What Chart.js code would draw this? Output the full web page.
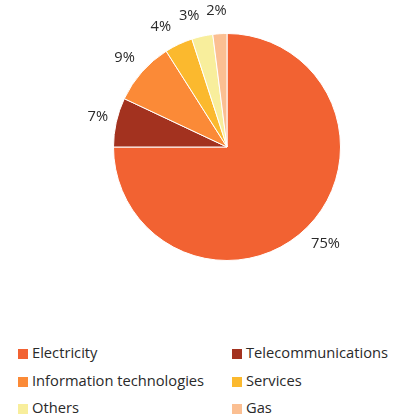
<!DOCTYPE html>
<html>
<head>
<meta charset="utf-8">
<script src="https://cdn.jsdelivr.net/npm/chart.js@4/dist/chart.umd.min.js"></script>
<style>
  html, body { margin: 0; padding: 0; background: #fff; }
  #wrap { position: relative; width: 394px; height: 419px; }
  #pie-box { position: absolute; left: 0; top: 0; width: 394px; height: 300px; }
  #legend { position: absolute; left: 0; top: 340px; width: 394px; font-family: "Open Sans", sans-serif; font-size: 14.7px; color: #2a2a2a; }
  .item { position: absolute; height: 20px; line-height: 20px; white-space: nowrap; }
  .swatch { display: inline-block; width: 10px; height: 10px; margin-right: 4px; vertical-align: -1px; }
</style>
</head>
<body>
<div id="wrap">
  <div id="pie-box"><canvas id="pie"></canvas></div>
  <div id="legend"></div>
</div>
<script>
// sectors, clockwise from 12 o'clock
const categories = ["Electricity", "Telecommunications", "Information technologies", "Services", "Others", "Gas"];
const shares = [75, 7, 9, 4, 3, 2];
const colors = ["#f26232", "#a3321f", "#fb8a37", "#fbb92e", "#f8ee9c", "#fbbf92"];

// percentage text outside each slice; the thin top slices get spread apart a little
const outsideLabels = {
  id: "outsideLabels",
  nudge: [[2, 0], [4, 0], [0, 1], [-8, 3], [-8, 2], [-2, 0]],
  afterDatasetsDraw(chart) {
    const ctx = chart.ctx;
    const meta = chart.getDatasetMeta(0);
    ctx.save();
    ctx.font = "14.7px 'Open Sans', sans-serif";
    ctx.fillStyle = "#2a2a2a";
    ctx.textAlign = "center";
    ctx.textBaseline = "middle";
    meta.data.forEach((arc, i) => {
      const mid = (arc.startAngle + arc.endAngle) / 2;
      const r = arc.outerRadius + 23;
      const [dx, dy] = this.nudge[i];
      ctx.fillText(shares[i] + "%", arc.x + Math.cos(mid) * r + dx, arc.y + Math.sin(mid) * r + dy);
    });
    ctx.restore();
  }
};

new Chart(document.getElementById("pie"), {
  type: "pie",
  data: {
    labels: categories,
    datasets: [{
      data: shares,
      backgroundColor: colors,
      borderColor: "#fff",
      borderWidth: 1
    }]
  },
  options: {
    responsive: true,
    maintainAspectRatio: false,
    animation: false,
    layout: { padding: { left: 113, right: 53, top: 33, bottom: 39 } },
    plugins: {
      legend: { display: false },
      tooltip: { enabled: false }
    }
  },
  plugins: [outsideLabels]
});

// two-column legend below the pie
const legend = document.getElementById("legend");
categories.forEach((name, i) => {
  const item = document.createElement("div");
  item.className = "item";
  item.style.left = (i % 2 === 0 ? 18 : 232) + "px";
  item.style.top = (Math.floor(i / 2) * 27.5 + 2) + "px";
  item.innerHTML = '<span class="swatch" style="background:' + colors[i] + '"></span>' + name;
  legend.appendChild(item);
});
</script>
</body>
</html>
